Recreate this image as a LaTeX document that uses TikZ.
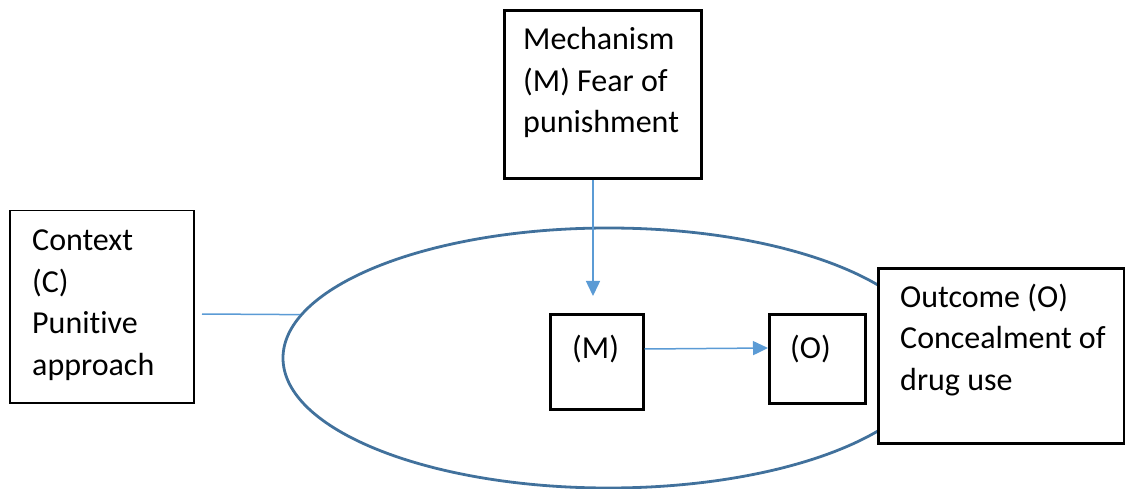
\documentclass[tikz,border=0pt]{standalone}
\usepackage{fontspec}
\setmainfont[Ligatures=NoCommon]{Carlito}
\usetikzlibrary{arrows.meta,shapes.geometric}
\definecolor{linkblue}{HTML}{5B9BD5}
\definecolor{ringblue}{HTML}{41719C}
\begin{document}
\begin{tikzpicture}[x=1pt,y=-1pt,
  box/.style={draw=black, fill=white, line width=2.6pt, rectangle, inner sep=0pt, anchor=north west},
  thinbox/.style={box, line width=1.5pt},
  label/.style={anchor=base west, align=left, inner sep=0pt, font=\fontsize{32}{41.5}\selectfont},
  link/.style={draw=linkblue, line width=1.5pt, -{Triangle[length=15pt,width=14pt]}},
]
\useasboundingbox (0,0) rectangle (1125,489);

% the setting ring
\node[ellipse, draw=ringblue, line width=2.8pt, inner sep=0pt,
      minimum width=651pt, minimum height=260pt] (ring) at (608.5,358) {};

% boxes
\node[box, line width=3pt, minimum width=197pt, minimum height=168pt] (mech) at (503,9) {};
\node[thinbox, minimum width=184pt, minimum height=192pt] (ctx) at (9,210) {};
\node[box, minimum width=93pt, minimum height=95pt] (mbox) at (549,313) {};
\node[box, minimum width=96pt, minimum height=89pt] (obox) at (768,313) {};
\node[box, minimum width=246pt, minimum height=175pt] (out) at (877,267) {};

% texts (anchored at the baseline of their last line)
\node[label] (mechtext) at (523,133) {Mechanism\\(M) Fear of\\punishment};
\node[label] (ctxtext) at (32,375) {Context\\(C)\\Punitive\\approach};
\node[label] (mtext) at (572,358) {(M)};
\node[label] (otext) at (790,358) {(O)};
\node[label] (outtext) at (900,390) {Outcome (O)\\Concealment of\\drug use};

% connectors
\coordinate (ctxend) at (202,314);
\coordinate (mtip) at (593,296);
\draw[draw=linkblue, line width=1.5pt] (ctxend) -- (ring.172.3);
\draw[link] (mech.south -| mtip) -- (mtip);
\draw[link] (mbox.east |- 0,349) -- (obox.west |- 0,348);
\end{tikzpicture}
\end{document}
